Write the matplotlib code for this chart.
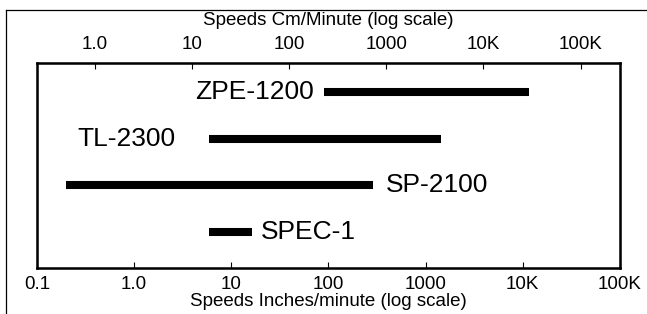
import matplotlib.pyplot as plt
from matplotlib.lines import Line2D

plt.rcParams['font.family'] = ['Liberation Sans', 'DejaVu Sans']

# speed ranges in inches/minute
models = ['ZPE-1200', 'TL-2300', 'SP-2100', 'SPEC-1']
low = [90, 5.9, 0.2, 5.9]
high = [11500, 1450, 290, 16.5]
rows = [4, 3, 2, 1]

in_ticks = [0.1, 1, 10, 100, 1000, 1e4, 1e5]
in_labels = ['0.1', '1.0', '10', '100', '1000', '10K', '100K']
cm_ticks = [1, 10, 100, 1000, 1e4, 1e5]
cm_labels = ['1.0', '10', '100', '1000', '10K', '100K']

fig = plt.figure(figsize=(6.47, 3.14), dpi=100)
ax = fig.add_axes([0.0572, 0.1465, 0.901, 0.653])

ax.hlines(rows, low, high, colors='black', linewidth=5.8, capstyle='butt')

# label placement: which side of the bar and how far off (points)
sides = ['left', 'left', 'right', 'right']
gaps = [7, 24, 9, 6]
for m, y, lo, hi, side, g in zip(models, rows, low, high, sides, gaps):
    if side == 'left':
        ax.annotate(m, (lo, y), xytext=(-g, 0), textcoords='offset points',
                    ha='right', va='center', fontsize=19)
    else:
        ax.annotate(m, (hi, y), xytext=(g, 0), textcoords='offset points',
                    ha='left', va='center', fontsize=19)

ax.set_xscale('log')
ax.set_xlim(0.1, 1e5)
ax.set_ylim(0.23, 4.62)
ax.set_yticks([])
ax.set_xticks(in_ticks)
ax.set_xticklabels(in_labels)
ax.minorticks_off()
ax.tick_params(axis='x', direction='in', length=4, width=0.8, labelsize=13.5, pad=6)
ax.set_xlabel('Speeds Inches/minute (log scale)', fontsize=13.5, labelpad=0)
for s in ax.spines.values():
    s.set_linewidth(1.8)

top = ax.twiny()
top.set_xscale('log')
top.set_xlim(0.1 * 2.54, 1e5 * 2.54)
top.set_xticks(cm_ticks)
top.set_xticklabels(cm_labels)
top.minorticks_off()
top.tick_params(axis='x', direction='in', length=4, width=0.8, labelsize=13.5, pad=7)
top.set_xlabel('Speeds Cm/Minute (log scale)', fontsize=13.5, labelpad=8)

# outer frame, only top and left edges visible
fig.add_artist(Line2D([6 / 647, 1.0], [1 - 10 / 314] * 2, color='black', lw=0.9,
                      transform=fig.transFigure))
fig.add_artist(Line2D([6 / 647] * 2, [0.0, 1 - 10 / 314], color='black', lw=0.9,
                      transform=fig.transFigure))

fig.savefig('out.png', dpi=100)
